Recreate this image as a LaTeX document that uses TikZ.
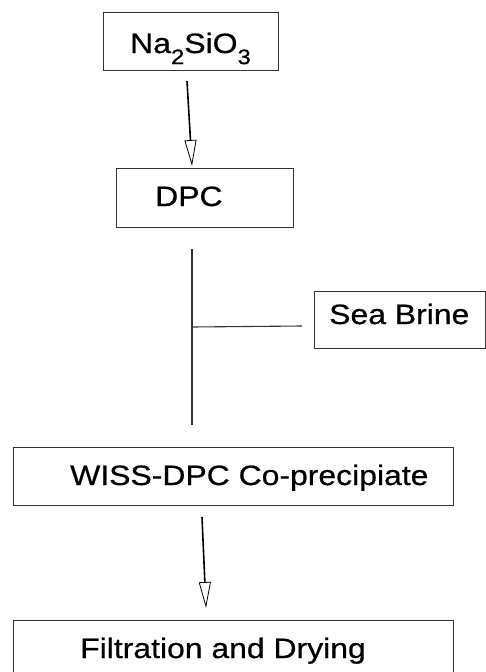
\documentclass[tikz,border=0pt]{standalone}
\usepackage{fontspec}
\setmainfont{Liberation Sans}
\newfontfamily\lblfont{Liberation Sans}[FakeStretch=1.14,FakeBold=0.6]
\usetikzlibrary{arrows.meta}
\definecolor{ln}{HTML}{333333}
\begin{document}
\begin{tikzpicture}[x=1pt,y=-1pt,
  box/.style={draw=ln,line width=1pt,rectangle,inner sep=0pt,anchor=north west},
  lbl/.style={anchor=base west,inner sep=0pt,font=\lblfont\fontsize{28}{32}\selectfont},
  arr/.style={draw=black,line width=1.6pt,-{Triangle[open,length=26pt,width=12pt,line width=0.8pt]}},
  conn/.style={draw=ln,line width=1.1pt}]
\useasboundingbox (0,0) rectangle (486,672);
\node[box,minimum width=175pt,minimum height=58pt] (b1) at (103,12) {};
\node[lbl] (t1) at (130,53) {Na\raisebox{-0.75ex}{\fontsize{21}{24}\selectfont 2}SiO\raisebox{-0.75ex}{\fontsize{21}{24}\selectfont 3}};
\node[box,minimum width=177pt,minimum height=59pt] (b2) at (116,168) {};
\node[lbl] (t2) at (155,206) {DPC};
\node[box,minimum width=171pt,minimum height=57pt] (b3) at (314,291) {};
\node[lbl] (t3) at (329,324) {Sea Brine};
\node[box,minimum width=440pt,minimum height=58pt] (b4) at (13,447) {};
\node[lbl] (t4) at (70,485) {WISS-DPC Co-precipiate};
\node[box,minimum width=440pt,minimum height=70pt] (b5) at (13,620) {};
\node[lbl] (t5) at (80,658) {Filtration and Drying};
\coordinate (a1s) at (187,81);
\coordinate (a1e) at (192,166);
\coordinate (a2s) at (202,517);
\coordinate (a2e) at (206,608);
\coordinate (vt) at (192,249);
\coordinate (vb) at (192,425);
\coordinate (vj) at (192,327);
\coordinate (hj) at (302,326);
\draw[arr] (a1s) -- (a1e);
\draw[arr] (a2s) -- (a2e);
\draw[conn] (vt) -- (vb);
\draw[conn] (vj) -- (hj);
\end{tikzpicture}
\end{document}
